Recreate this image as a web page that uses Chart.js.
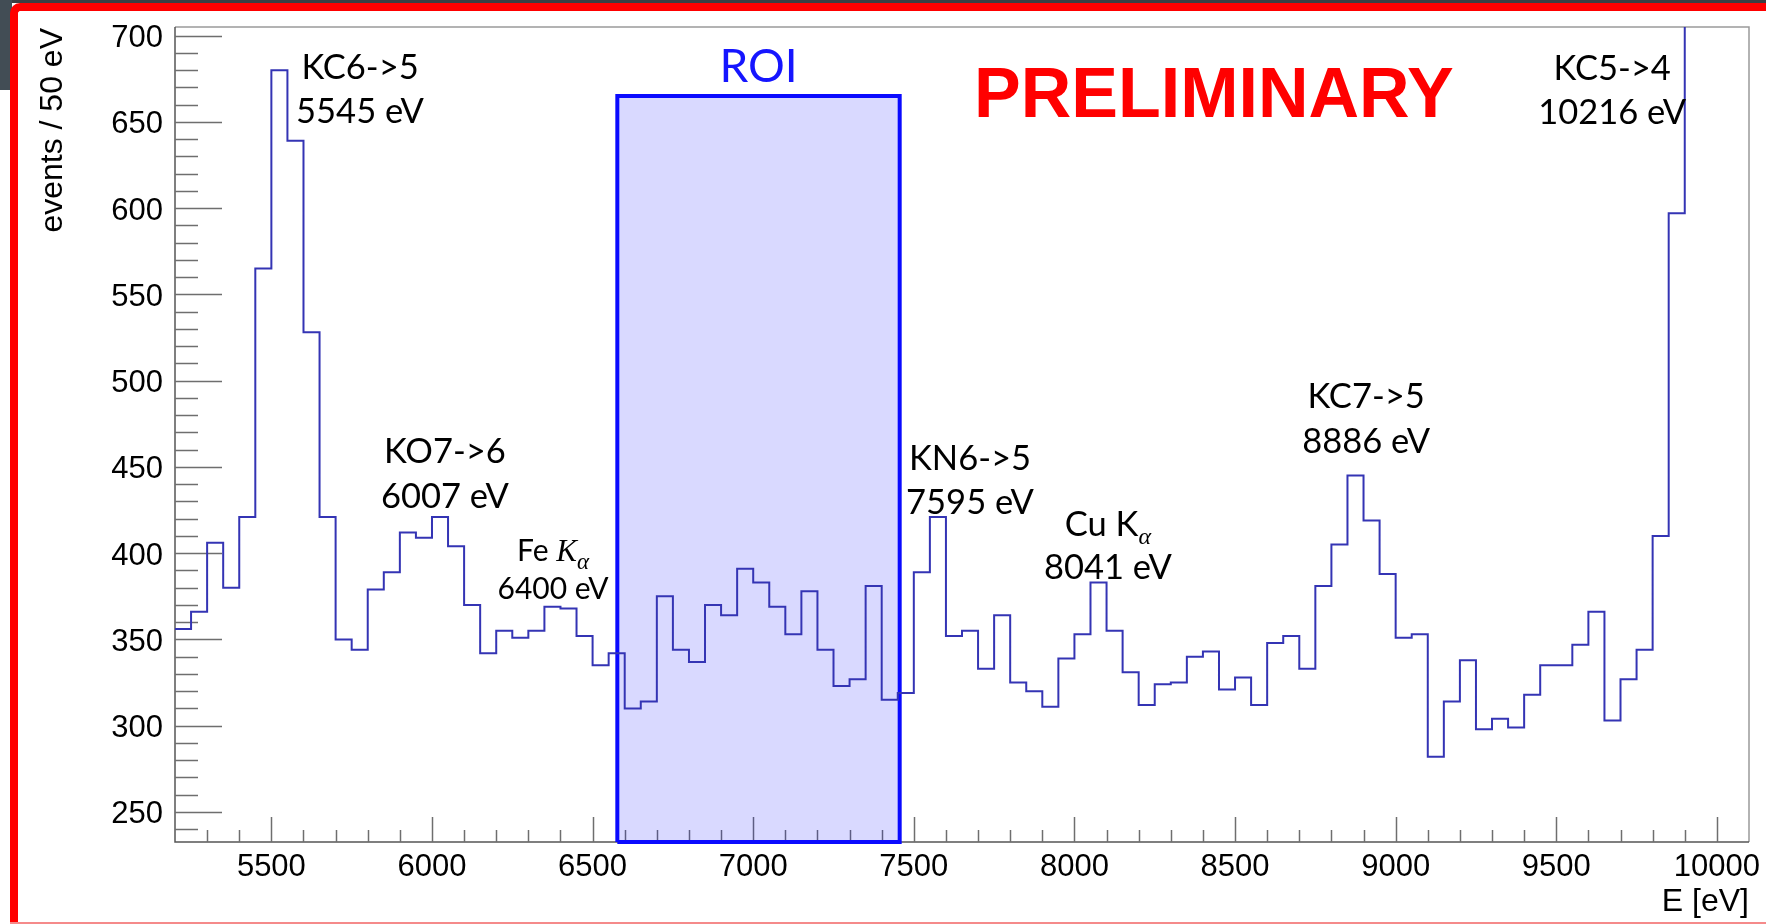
<!DOCTYPE html>
<html>
<head>
<meta charset="utf-8">
<title>Spectrum</title>
<script src="https://cdn.jsdelivr.net/npm/chart.js@4.4.1/dist/chart.umd.min.js"></script>
<style>
  html, body { margin: 0; padding: 0; background: #fff; }
  #wrap { position: relative; width: 1766px; height: 924px; overflow: hidden; background: #fff; }
  .topbar { position: absolute; left: 0; top: 0; width: 1766px; height: 3px; background: #3b3f43; }
  .corner { position: absolute; left: 0; top: 0; width: 12px; height: 90px; background: #424d55; }
  .redframe { position: absolute; left: 10px; top: 3px; width: 1800px; height: 960px;
              border-left: 8px solid #ff0000; border-top: 8px solid #ff0000; border-top-left-radius: 10px; }
  .bottomline { position: absolute; left: 10px; top: 922px; width: 1756px; height: 2px; background: #f58a8a; }
  #spec { position: absolute; left: 0; top: 0; }
</style>
</head>
<body>
<div id="wrap">
  <div class="topbar"></div>
  <div class="corner"></div>
  <div class="redframe"></div>
  <div class="bottomline"></div>
  <canvas id="spec" width="1766" height="924"></canvas>
</div>
<script>
// histogram: 50 eV bins starting at 5200 eV
var energyStart = 5200;
var binWidth = 50;
var counts = [
  356, 366, 406, 380, 421, 565, 680, 639, 528, 421,
  350, 344, 379, 389, 412, 409, 421, 404, 370, 342,
  355, 351, 355, 369, 368, 352, 335, 342, 310, 314,
  375, 344, 337, 370, 364, 391, 383, 369, 353, 378,
  344, 323, 327, 381, 315, 319, 389, 421, 352, 355,
  333, 364, 325, 320, 311, 339, 353, 383, 355, 331,
  312, 324, 325, 340, 343, 321, 328, 312, 348, 352,
  333, 381, 405, 445, 419, 388, 351, 353, 282, 314,
  338, 298, 304, 299, 318, 335, 335, 347, 366, 303,
  327, 344, 410, 597, 760, 820, 880, 940
];

var xRange = [5200, 10100];
var yRange = [232.6, 705];
var xTickValues = [5500, 6000, 6500, 7000, 7500, 8000, 8500, 9000, 9500, 10000];
var yTickValues = [250, 300, 350, 400, 450, 500, 550, 600, 650, 700];

// region of interest box
var roiEdges = [6577, 7456];
var roiTop = 665;

// peak annotations
var peakNames = ['KC6->5', 'KO7->6', 'Fe Kα', 'KN6->5', 'Cu Kα', 'KC7->5', 'KC5->4'];
var peakEnergies = ['5545 eV', '6007 eV', '6400 eV', '7595 eV', '8041 eV', '8886 eV', '10216 eV'];
var labelAnchors = [[5776, 682], [6040, 459], [6377, 402], [7675, 455], [8104, 417], [8908, 491], [9674, 681]];
var labelGaps = [44, 45, 37, 44, 43, 45, 44];

// point i sits on the low edge of bin i; closing point on the last high edge
var histPoints = counts.map(function (c, i) {
  return { x: energyStart + i * binWidth, y: c };
});
histPoints.push({ x: energyStart + counts.length * binWidth, y: counts[counts.length - 1] });

var roiPoints = [
  { x: roiEdges[0], y: yRange[0] },
  { x: roiEdges[0], y: roiTop },
  { x: roiEdges[1], y: roiTop },
  { x: roiEdges[1], y: yRange[0] },
  { x: roiEdges[0], y: yRange[0] }
];

var labelFont = '34.5px Lato';
var smallLabelFont = '30px Lato';
var tickFont = '31px "Liberation Sans"';

function drawParts(ctx, cx, baseY, parts) {
  var total = 0;
  parts.forEach(function (p) { ctx.font = p.font; p.w = ctx.measureText(p.t).width; total += p.w; });
  var px = cx - total / 2;
  parts.forEach(function (p) {
    ctx.font = p.font;
    ctx.fillText(p.t, px, baseY + (p.dy || 0));
    px += p.w;
  });
}

var frameAndTicks = {
  id: 'frameAndTicks',
  beforeDatasetsDraw: function (chart) {
    var ctx = chart.ctx, a = chart.chartArea, x = chart.scales.x, y = chart.scales.y;
    ctx.save();
    ctx.lineWidth = 1.5;
    ctx.strokeStyle = '#9a9a9a';
    ctx.beginPath();
    ctx.moveTo(a.left, a.top); ctx.lineTo(a.right, a.top); ctx.lineTo(a.right, a.bottom);
    ctx.stroke();
    ctx.strokeStyle = '#555';
    ctx.beginPath();
    ctx.moveTo(a.left, a.top); ctx.lineTo(a.left, a.bottom); ctx.lineTo(a.right, a.bottom);
    ctx.stroke();

    // y ticks, inward
    ctx.strokeStyle = '#6e6e6e';
    for (var v = 240; v <= 700; v += 10) {
      var py = Math.round(y.getPixelForValue(v)) + 0.5;
      var len = (v % 50 === 0) ? 47 : 23;
      ctx.beginPath(); ctx.moveTo(a.left, py); ctx.lineTo(a.left + len, py); ctx.stroke();
    }
    // x ticks, inward
    for (var e = 5300; e <= 10000; e += 100) {
      var pxx = Math.round(x.getPixelForValue(e)) + 0.5;
      var l = (e % 500 === 0) ? 25 : 12;
      ctx.beginPath(); ctx.moveTo(pxx, a.bottom); ctx.lineTo(pxx, a.bottom - l); ctx.stroke();
    }

    // tick labels
    ctx.fillStyle = '#000';
    ctx.font = tickFont;
    ctx.textAlign = 'right';
    ctx.textBaseline = 'alphabetic';
    yTickValues.forEach(function (t) {
      ctx.fillText(String(t), a.left - 12, y.getPixelForValue(t) + 11.5);
    });
    ctx.textAlign = 'center';
    xTickValues.forEach(function (t) {
      ctx.fillText(String(t), x.getPixelForValue(t), a.bottom + 34);
    });

    // axis titles
    ctx.textAlign = 'right';
    ctx.font = '32px "Liberation Sans"';
    ctx.fillText('E [eV]', a.right, a.bottom + 69);
    ctx.save();
    ctx.translate(62, a.top + 1);
    ctx.rotate(-Math.PI / 2);
    ctx.textAlign = 'right';
    ctx.fillText('events / 50 eV', 0, 0);
    ctx.restore();
    ctx.restore();
  },
  afterDraw: function (chart) {
    var ctx = chart.ctx, x = chart.scales.x, y = chart.scales.y;
    ctx.save();
    ctx.textBaseline = 'alphabetic';
    ctx.textAlign = 'left';
    ctx.fillStyle = '#000';
    peakNames.forEach(function (name, i) {
      var cx = x.getPixelForValue(labelAnchors[i][0]);
      var cy = y.getPixelForValue(labelAnchors[i][1]);
      var base = cy + 12;
      var f = labelFont;
      if (name === 'Fe Kα') {
        f = smallLabelFont;
        drawParts(ctx, cx, base - 1, [
          { t: 'Fe ', font: f },
          { t: 'K', font: 'italic 31px "Liberation Serif"' },
          { t: 'α', font: 'italic 23px "Liberation Serif"', dy: 8 }
        ]);
      } else if (name === 'Cu Kα') {
        drawParts(ctx, cx, base, [
          { t: 'Cu K', font: f },
          { t: 'α', font: 'italic 24px "Liberation Serif"', dy: 8 }
        ]);
      } else {
        drawParts(ctx, cx, base, [{ t: name, font: f }]);
      }
      drawParts(ctx, cx, base + labelGaps[i], [{ t: peakEnergies[i], font: f }]);
    });

    // ROI caption
    ctx.fillStyle = '#1515ff';
    drawParts(ctx, x.getPixelForValue((roiEdges[0] + roiEdges[1]) / 2), 82, [{ t: 'ROI', font: '46px Lato' }]);

    // PRELIMINARY stamp
    ctx.fillStyle = '#ff0000';
    ctx.font = 'bold 70px "Liberation Sans"';
    ctx.fillText('PRELIMINARY', 974, 117);
    ctx.restore();
  }
};

var ctx = document.getElementById('spec').getContext('2d');
var chart = new Chart(ctx, {
  type: 'line',
  data: {
    datasets: [{
      label: 'ROI',
      data: roiPoints,
      borderColor: '#0a0aff',
      borderWidth: 4,
      backgroundColor: 'rgba(0, 0, 255, 0.15)',
      fill: 'shape',
      pointRadius: 0,
      tension: 0,
      clip: 6,
      order: 2
    }, {
      label: 'events',
      data: histPoints,
      borderColor: '#3434b4',
      borderWidth: 2,
      stepped: 'before',
      fill: false,
      pointRadius: 0,
      tension: 0,
      order: 1
    }]
  },
  options: {
    responsive: false,
    devicePixelRatio: 1,
    animation: false,
    layout: { padding: { left: 0, top: 27, right: 17, bottom: 0 } },
    plugins: {
      legend: { display: false },
      tooltip: { enabled: false }
    },
    scales: {
      x: {
        type: 'linear',
        min: xRange[0],
        max: xRange[1],
        ticks: { display: false },
        grid: { display: false, drawTicks: false },
        border: { display: false },
        afterFit: function (s) { s.height = 82; }
      },
      y: {
        type: 'linear',
        min: yRange[0],
        max: yRange[1],
        ticks: { display: false },
        grid: { display: false, drawTicks: false },
        border: { display: false },
        afterFit: function (s) { s.width = 175; }
      }
    }
  },
  plugins: [frameAndTicks]
});
</script>
</body>
</html>
